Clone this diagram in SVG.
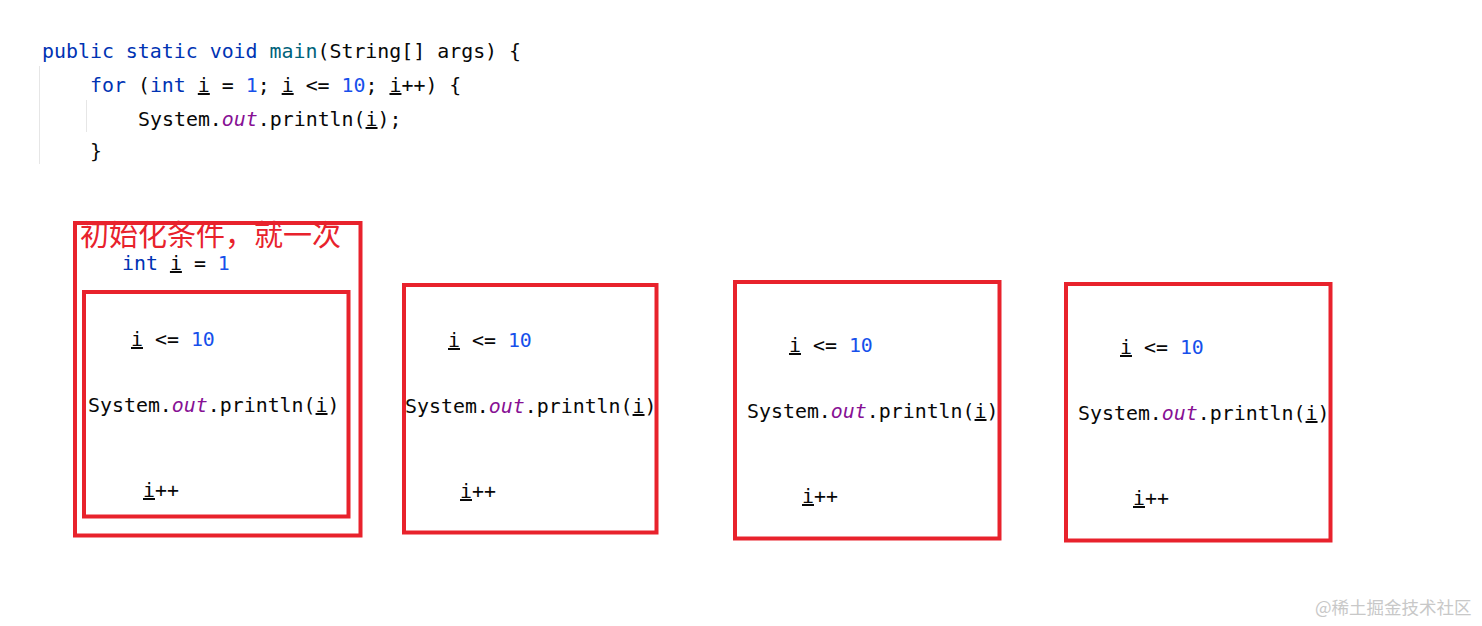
<svg xmlns="http://www.w3.org/2000/svg" width="1482" height="626" viewBox="0 0 1482 626">
<style>
.code{font-family:"DejaVu Sans Mono","Liberation Mono",monospace;font-size:19.9px;fill:#080808}
.kw{fill:#0033b3}
.fn{fill:#00627a}
.num{fill:#1750eb}
.fld{fill:#871094;font-style:italic}
.u{text-decoration:underline}
.box{fill:none;stroke:#e8222c;stroke-width:4}
.note{font-family:"Noto Sans CJK SC",sans-serif;font-size:29px;fill:#e8222c}
.wm{font-family:"Noto Sans CJK SC",sans-serif;font-size:17.5px;fill:#c8c8c8}
.guide{stroke:#e6e6e6;stroke-width:1}
</style>
<rect width="1482" height="626" fill="#ffffff"/>
<g id="code">
<line class="guide" x1="39.5" y1="66" x2="39.5" y2="164"/>
<line class="guide" x1="86.5" y1="100" x2="86.5" y2="132"/>
<text class="code" x="42" y="58"><tspan class="kw">public static void</tspan> <tspan class="fn">main</tspan>(String[] args) {</text>
<text class="code" x="90" y="92"><tspan class="kw">for</tspan> (<tspan class="kw">int</tspan> <tspan class="u">i</tspan> = <tspan class="num">1</tspan>; <tspan class="u">i</tspan> &lt;= <tspan class="num">10</tspan>; <tspan class="u">i</tspan>++) {</text>
<text class="code" x="138" y="126">System.<tspan class="fld">out</tspan>.println(<tspan class="u">i</tspan>);</text>
<text class="code" x="90" y="158">}</text>
</g>
<g id="iteration1">
<rect class="box" x="75" y="223" width="285.5" height="312.5"/>
<text class="note" x="80" y="246">初始化条件，就一次</text>
<text class="code" x="122" y="270"><tspan class="kw">int</tspan> <tspan class="u">i</tspan> = <tspan class="num">1</tspan></text>
<rect class="box" x="84" y="292" width="264.5" height="224.5"/>
<text class="code" x="131" y="346"><tspan class="u">i</tspan> &lt;= <tspan class="num">10</tspan></text>
<text class="code" x="88" y="412">System.<tspan class="fld">out</tspan>.println(<tspan class="u">i</tspan>)</text>
<text class="code" x="143" y="497"><tspan class="u">i</tspan>++</text>
</g>
<g id="iteration2">
<rect class="box" x="404" y="285" width="252.5" height="247.5"/>
<text class="code" x="448" y="347"><tspan class="u">i</tspan> &lt;= <tspan class="num">10</tspan></text>
<text class="code" x="405" y="413">System.<tspan class="fld">out</tspan>.println(<tspan class="u">i</tspan>)</text>
<text class="code" x="460" y="498"><tspan class="u">i</tspan>++</text>
</g>
<g id="iteration3">
<rect class="box" x="735" y="282" width="264.5" height="256.5"/>
<text class="code" x="789" y="352"><tspan class="u">i</tspan> &lt;= <tspan class="num">10</tspan></text>
<text class="code" x="747" y="418">System.<tspan class="fld">out</tspan>.println(<tspan class="u">i</tspan>)</text>
<text class="code" x="802" y="503"><tspan class="u">i</tspan>++</text>
</g>
<g id="iteration4">
<rect class="box" x="1066" y="284" width="264.5" height="256.5"/>
<text class="code" x="1120" y="354"><tspan class="u">i</tspan> &lt;= <tspan class="num">10</tspan></text>
<text class="code" x="1078" y="420">System.<tspan class="fld">out</tspan>.println(<tspan class="u">i</tspan>)</text>
<text class="code" x="1133" y="505"><tspan class="u">i</tspan>++</text>
</g>
<g id="connectors"></g>
<text class="wm" x="1315" y="614">@稀土掘金技术社区</text>
</svg>
